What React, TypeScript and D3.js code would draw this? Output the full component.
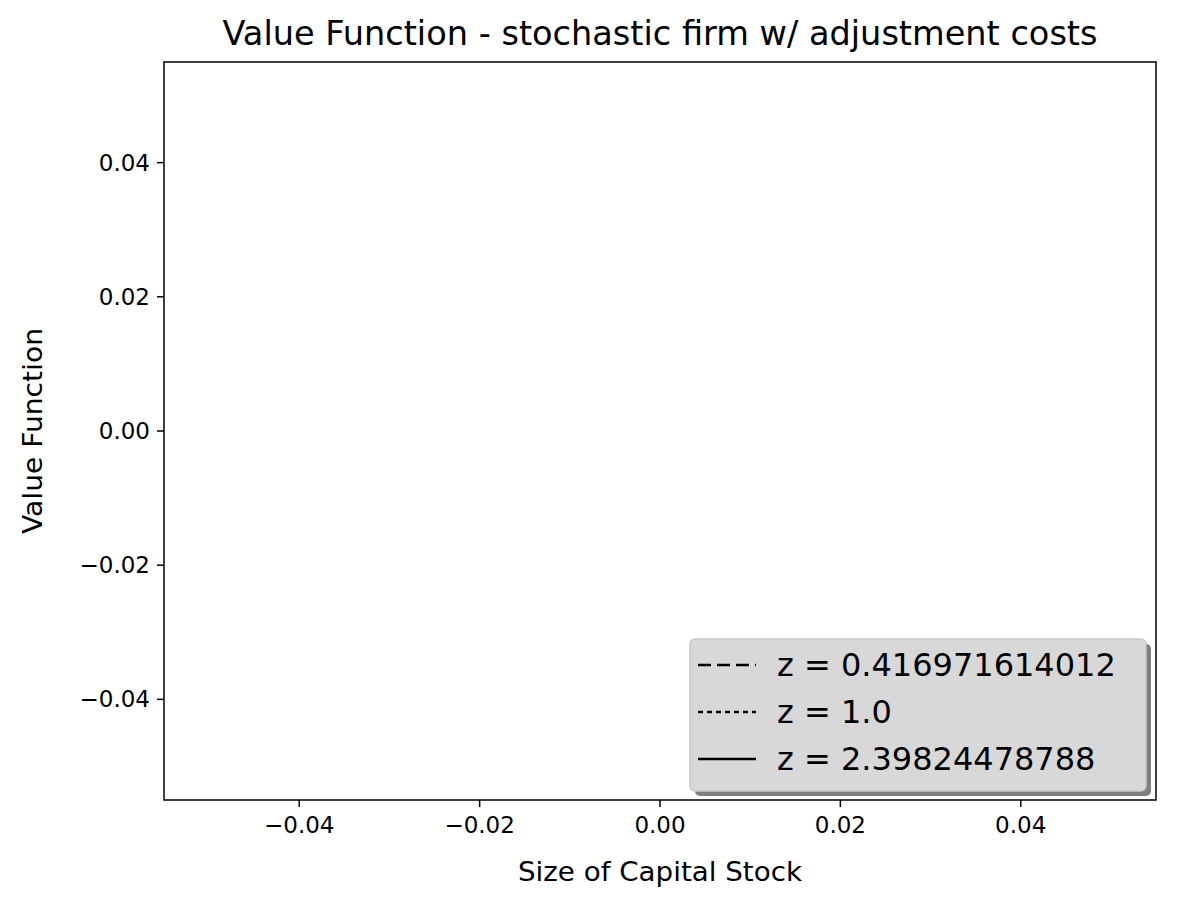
import * as d3 from "d3";
import React from "react";

const xDomain: [number, number] = [-0.055, 0.055];
const yDomain: [number, number] = [-0.055, 0.055];
const xTicks = [-0.04, -0.02, 0.0, 0.02, 0.04];
const yTicks = [-0.04, -0.02, 0.0, 0.02, 0.04];
const seriesLabels = ["z = 0.416971614012", "z = 1.0", "z = 2.39824478788"];
const seriesDash = ["13 6", "5 4", ""];

const fmt = (t: number) => (t < 0 ? "\u2212" : "") + Math.abs(t).toFixed(2);

export default function App() {
    const W = 1179, H = 908;
    const m = { left: 164, right: 1156, top: 62, bottom: 800 };
    const x = d3.scaleLinear().domain(xDomain).range([m.left, m.right]);
    const y = d3.scaleLinear().domain(yDomain).range([m.bottom, m.top]);
    const font = "DejaVu Sans, sans-serif";
    const lg = { x: 690, y: 639, w: 456, h: 152 };
    return (
        <svg width={W} height={H} style={{ position: "absolute", left: 0, top: 0 }} fontFamily={font}>
            <rect width={W} height={H} fill="#fff" />
            <text x={(m.left + m.right) / 2} y={45} textAnchor="middle" fontSize={28 * 875 / 730}
                textLength={875} lengthAdjust="spacingAndGlyphs">Value Function - stochastic firm w/ adjustment costs</text>
            {xTicks.map(t => (
                <g key={t}>
                    <line x1={x(t)} x2={x(t)} y1={m.bottom} y2={m.bottom + 7} stroke="#000" strokeWidth={1.5} />
                    <text x={x(t)} y={m.bottom + 33} textAnchor="middle" fontSize={23}>{fmt(t)}</text>
                </g>
            ))}
            {yTicks.map(t => (
                <g key={t}>
                    <line x1={m.left - 7} x2={m.left} y1={y(t)} y2={y(t)} stroke="#000" strokeWidth={1.5} />
                    <text x={m.left - 14} y={y(t)} textAnchor="end" dominantBaseline="central" fontSize={23}>{fmt(t)}</text>
                </g>
            ))}
            <rect x={m.left} y={m.top} width={m.right - m.left} height={m.bottom - m.top} fill="none" stroke="#000" strokeWidth={1.5} />
            <text x={(m.left + m.right) / 2} y={881} textAnchor="middle" fontSize={27}
                textLength={284} lengthAdjust="spacingAndGlyphs">Size of Capital Stock</text>
            <text transform={`translate(42,${(m.top + m.bottom) / 2}) rotate(-90)`} textAnchor="middle" fontSize={27}
                textLength={206} lengthAdjust="spacingAndGlyphs">Value Function</text>
            <rect x={lg.x + 5} y={lg.y + 5} width={lg.w} height={lg.h} rx={5} fill="#7f7f7f" />
            <rect x={lg.x} y={lg.y} width={lg.w} height={lg.h} rx={5} fill="#d8d8d8" stroke="#c8c8c8" strokeWidth={1.5} />
            {seriesLabels.map((s, i) => {
                const yy = 665 + i * 47;
                return (
                    <g key={s}>
                        <line x1={698} x2={756} y1={yy} y2={yy} stroke="#000" strokeWidth={2.5} strokeDasharray={seriesDash[i] || undefined} />
                        <text x={777} y={yy} dominantBaseline="central" fontSize={32}>{s}</text>
                    </g>
                );
            })}
        </svg>
    );
}
